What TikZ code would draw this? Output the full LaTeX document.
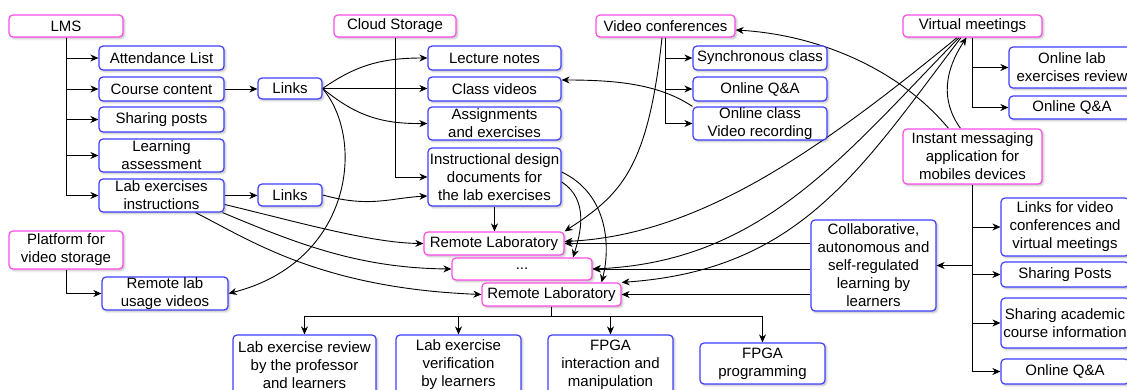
\documentclass[tikz,border=0pt]{standalone}
\usepackage{fontspec}
\setmainfont{Liberation Sans}
\usetikzlibrary{arrows.meta,shadows.blur,backgrounds}
\definecolor{edgeblue}{RGB}{64,64,255}
\definecolor{edgepink}{RGB}{255,77,230}
\tikzset{
  bx/.style={draw=edgeblue, line width=1.2pt, rounded corners=4pt, fill=white,
    align=center, inner sep=0pt, font=\fontsize{15}{18}\selectfont,
    blur shadow={shadow xshift=1.5pt, shadow yshift=-1.5pt, shadow blur steps=4, shadow opacity=30}},
  px/.style={bx, draw=edgepink},
  sz/.style 2 args={minimum width=#1pt, minimum height=#2pt},
  arr/.style={draw=black, line width=0.9pt, -{Stealth[length=8pt,width=7pt,inset=2.5pt]}},
}
\begin{document}
\begin{tikzpicture}[x=1pt,y=-1pt]
\useasboundingbox (0,0) rectangle (1127,390);

% LMS branch
\node[px, sz={114}{22}] (lms) at (66,26) {LMS};
\node[bx, sz={125}{24}] (att) at (161.5,58) {Attendance List};
\node[bx, sz={125}{24}] (course) at (161.5,89) {Course content};
\node[bx, sz={125}{25}] (posts) at (161.5,119.5) {Sharing posts};
\node[bx, sz={125}{33}] (assess) at (161.5,155.5) {Learning\\assessment};
\node[bx, sz={125}{33}] (labins) at (161.5,195.5) {Lab exercises\\instructions};
\node[bx, sz={64}{21}] (links1) at (290,88.5) {Links};
\node[bx, sz={64}{22}] (links2) at (290,195) {Links};

% video storage platform
\node[px, sz={114}{38}] (pvs) at (66,250) {Platform for\\video storage};
\node[bx, sz={126}{33}] (rluv) at (165,293.5) {Remote lab\\usage videos};

% cloud storage branch
\node[px, sz={122}{22}] (cloud) at (395,26) {Cloud Storage};
\node[bx, sz={133}{24}] (lecture) at (494.5,58) {Lecture notes};
\node[bx, sz={133}{24}] (classv) at (494.5,89) {Class videos};
\node[bx, sz={133}{33}] (assign) at (494.5,123.5) {Assignments\\and exercises};
\node[bx, sz={133}{58}] (instr) at (494.5,177) {Instructional design\\documents for\\the lab exercises};

% remote laboratories
\node[px, sz={140}{23}] (rl1) at (494,243.5) {Remote Laboratory};
\node[px, sz={140}{22}] (dots) at (522,269) {...};
\node[px, sz={139}{23}] (rl2) at (551.5,294.5) {Remote Laboratory};

% lab activities
\node[bx, sz={143}{60}] (ler) at (304.5,365) {Lab exercise review\\by the professor\\and learners};
\node[bx, sz={125}{60}] (lev) at (458.5,365) {Lab exercise\\verification\\by learners};
\node[bx, sz={125}{60}] (fim) at (610.5,365) {FPGA\\interaction and\\manipulation};
\node[bx, sz={125}{41}] (fpr) at (762.5,363.5) {FPGA\\programming};

% video conferences branch
\node[px, sz={139}{22}] (vc) at (665.5,26) {Video conferences};
\node[bx, sz={134}{24}] (sync) at (760,58) {Synchronous class};
\node[bx, sz={134}{24}] (oqa1) at (760,89) {Online Q\&A};
\node[bx, sz={134}{33}] (ocvr) at (760,123.5) {Online class\\Video recording};

% virtual meetings branch
\node[px, sz={139}{22}] (vm) at (972.5,26) {Virtual meetings};
\node[bx, sz={126}{41}] (olr) at (1072,67.5) {Online lab\\exercises review};
\node[bx, sz={126}{23}] (oqa2) at (1072,107.5) {Online Q\&A};

% instant messaging branch
\node[px, sz={139}{55}] (im) at (972.5,156.5) {Instant messaging\\application for\\mobiles devices};
\node[bx, sz={128}{58}] (lfv) at (1065,227) {Links for video\\conferences and\\virtual meetings};
\node[bx, sz={128}{25}] (sp) at (1065,274.5) {Sharing Posts};
\node[bx, sz={128}{50}] (sac) at (1065,323) {Sharing academic\\course information};
\node[bx, sz={128}{25}] (oqa3) at (1065,371.5) {Online Q\&A};
\node[bx, sz={125}{91}] (collab) at (873.5,265.5) {Collaborative,\\autonomous and\\self-regulated\\learning by\\learners};

\begin{scope}[on background layer]
% LMS tree
\foreach \tgt in {att,course,posts,assess,labins}
  \draw[arr] (lms.south) |- (\tgt.west);
\draw[arr] (course.east) -- (course.east -| links1.west);
\draw[arr] (labins.east) -- (labins.east -| links2.west);
\draw[arr] (pvs.south) |- (rluv.west);

% cloud storage
\draw[arr] (cloud.south) |- (instr.west);

% links
\draw[arr] (links1.east) .. controls (355,66) and (380,58) .. (lecture.west);
\draw[arr] (links1.east) -- (links1.east -| classv.west);
\draw[arr] (links1.east) .. controls (355,115) and (380,124) .. (assign.west);
\draw[arr] (links1.east) .. controls (366,140) and (352,262) .. (rluv.east);
\draw[arr] (links2.east) .. controls (370,208) and (390,198) .. ([yshift=-19pt]instr.west);

% lab instructions to laboratories
\draw[arr] ([yshift=-9pt]labins.east) .. controls (290,220) and (370,243) .. (rl1.west);
\draw[arr] ([xshift=-2pt]labins.south east) .. controls (300,245) and (360,268) .. (dots.west);
\draw[arr] ([xshift=34pt]labins.south) .. controls (250,240) and (320,288) .. (rl2.west);

% instructional design to laboratories
\draw[arr] (instr.south) -- (instr.south |- rl1.north);
\draw[arr] ([yshift=-5pt]instr.east) .. controls (590,200) and (580,235) .. ([xshift=51pt]dots.north);
\draw[arr] ([yshift=5pt]instr.east) .. controls (610,195) and (610,250) .. ([xshift=50pt]rl2.north);

% video conferences
\foreach \tgt in {sync,oqa1,ocvr}
  \draw[arr] (vc.south) |- (\tgt.west);
\draw[arr] ([xshift=-3.5pt]vc.south) .. controls (648,170) and (620,195) .. (rl1.north east);
\draw[arr] (ocvr.north west) .. controls (660,85) and (620,80) .. ([yshift=9pt]classv.east);

% virtual meetings
\foreach \tgt in {olr,oqa2}
  \draw[arr] (vm.south) |- (\tgt.west);
\draw[arr] ([xshift=-15.5pt]vm.south) .. controls (820,150) and (700,235) .. ([yshift=2pt]rl1.east);
\draw[arr] ([xshift=-13.5pt]vm.south) .. controls (840,160) and (760,262) .. (dots.east);
\draw[arr] ([xshift=-11.5pt]vm.south) .. controls (860,170) and (800,270) .. (rl2.north east);

% instant messaging
\draw[arr] ([xshift=-24pt]im.north) .. controls (900,70) and (820,35) .. ([yshift=-4pt]vc.east);
\draw[arr] ([xshift=-12pt]im.north) .. controls (940,100) and (945,70) .. ([xshift=-6pt]vm.south);
\foreach \tgt in {lfv,sp,sac,oqa3}
  \draw[arr] (im.south) |- (\tgt.west);
\draw[arr] (im.south |- collab.east) -- (collab.east);

% collaborative learning to laboratories
\draw[arr] (collab.west |- rl1.east) -- (rl1.east);
\draw[arr] (collab.west |- dots.east) -- (dots.east);
\draw[arr] (collab.west |- rl2.east) -- (rl2.east);

% laboratory activities
\foreach \tgt in {ler,lev,fim,fpr}
  \draw[arr] (rl2.south) -- ++(0,10) -| (\tgt.north);
\end{scope}
\end{tikzpicture}
\end{document}
